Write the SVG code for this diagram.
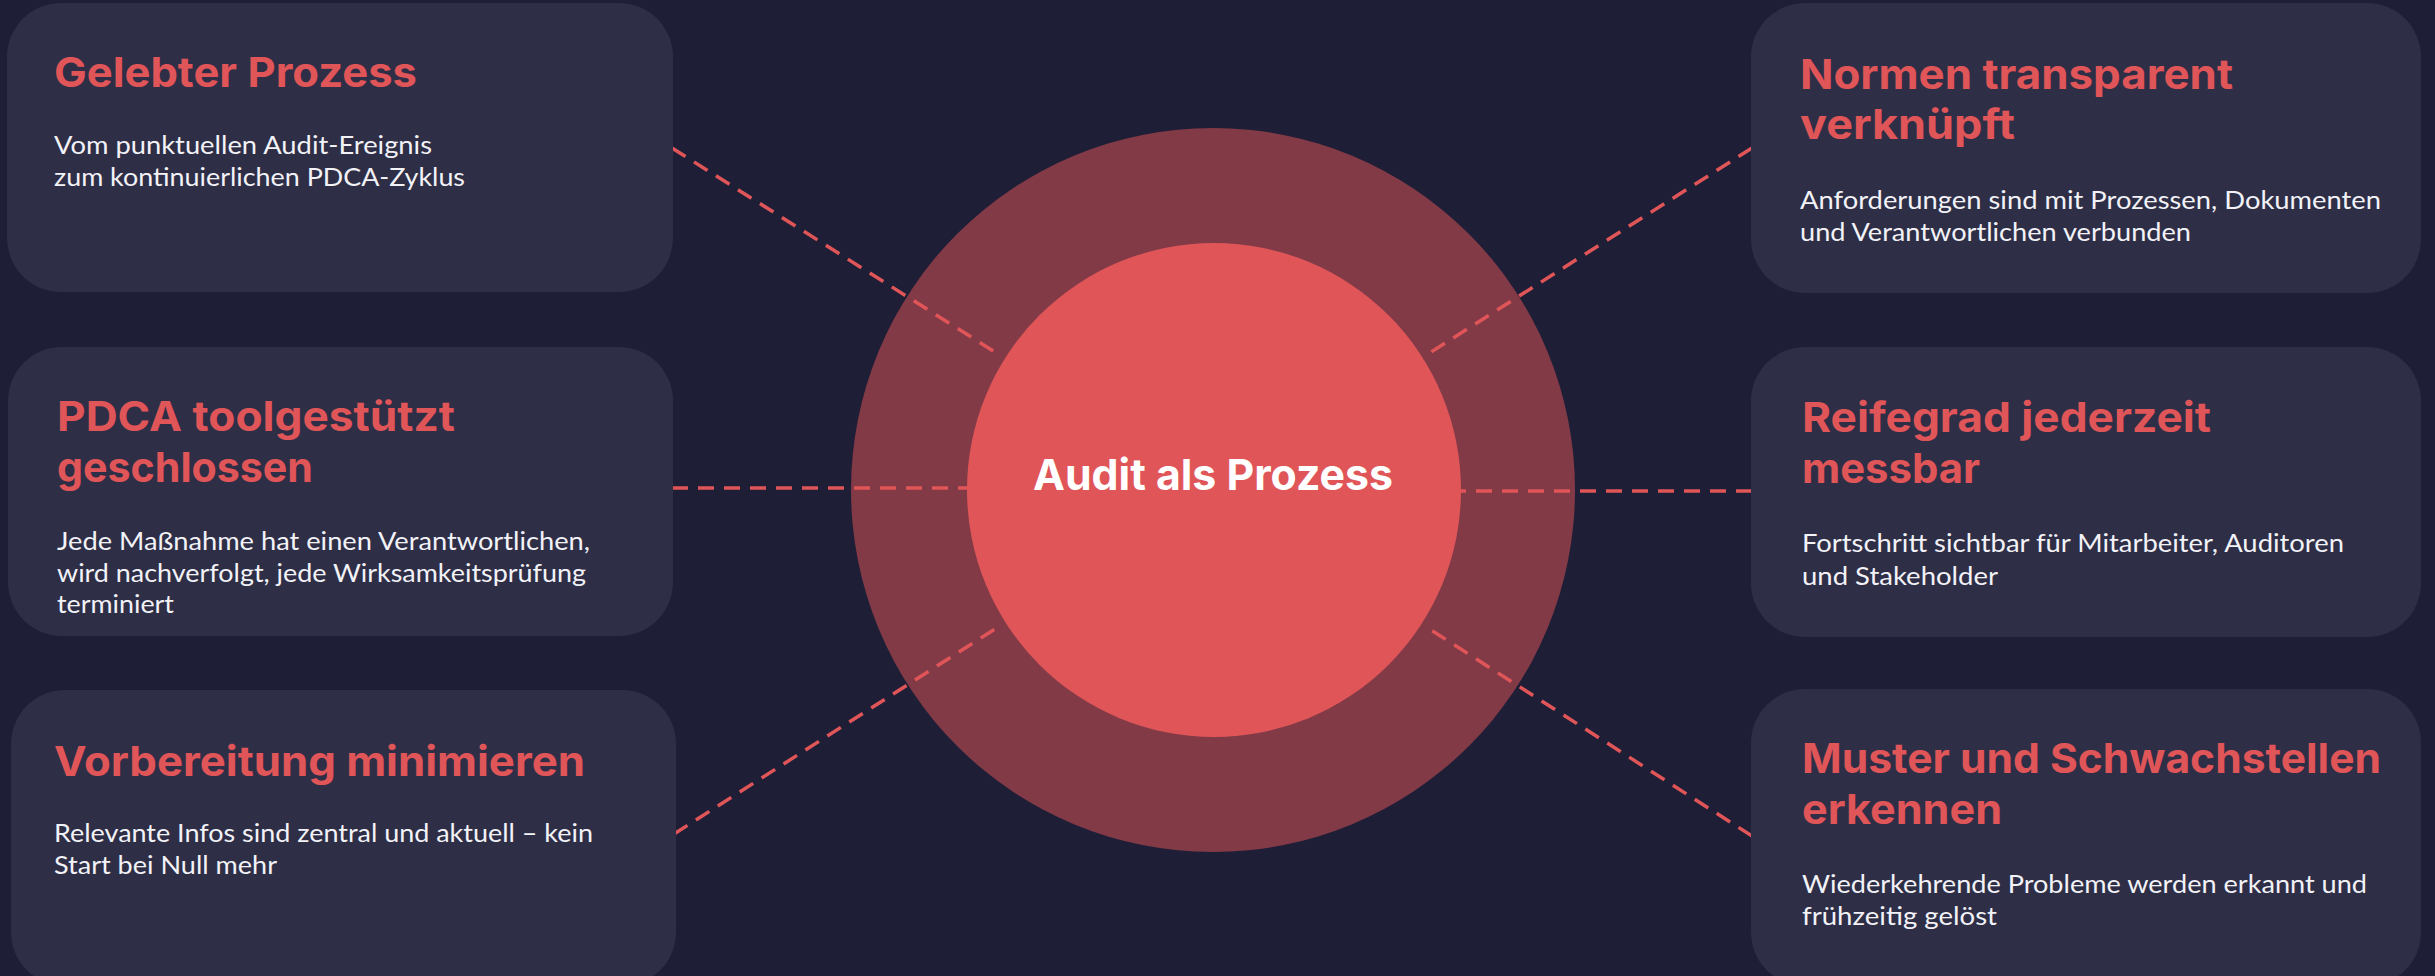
<svg xmlns="http://www.w3.org/2000/svg" width="2435" height="976" viewBox="0 0 2435 976">
  <style>
    .card { fill: #2E2E47; }
    .title { font-family: Inter, Lato, "Open Sans", sans-serif; font-weight: 700; font-size: 41px; fill: #E05558; }
    .body { font-family: Lato, "Open Sans", sans-serif; font-weight: 400; font-size: 25px; fill: #F2F2F7; }
    .conn { stroke: #E05558; stroke-width: 3.5; stroke-dasharray: 16 10; fill: none; }
    .center-label { font-family: Inter, Lato, "Open Sans", sans-serif; font-weight: 700; font-size: 43px; fill: #FFFFFF; }
  </style>
  <rect x="0" y="0" width="2435" height="976" fill="#1E1E36"/>

  <g id="hub-outer">
    <circle cx="1213" cy="490" r="362" fill="#823A47"/>
  </g>

  <g id="connectors">
    <line class="conn" x1="672" y1="148" x2="998" y2="354"/>
    <line class="conn" x1="672" y1="488" x2="968" y2="488"/>
    <line class="conn" x1="674" y1="834" x2="998" y2="627"/>
    <line class="conn" x1="1752" y1="148" x2="1428" y2="354"/>
    <line class="conn" x1="1752" y1="491" x2="1459" y2="491"/>
    <line class="conn" x1="1752" y1="836" x2="1428" y2="628"/>
  </g>

  <g id="hub">
    <circle cx="1214" cy="490" r="247" fill="#E05558"/>
    <text class="center-label" x="1213" y="490" text-anchor="middle" textLength="360" lengthAdjust="spacingAndGlyphs">Audit als Prozess</text>
  </g>

  <g id="card-gelebter-prozess">
    <rect class="card" x="7" y="3" width="666" height="289" rx="54"/>
    <text class="title" x="54" y="87" textLength="363" lengthAdjust="spacingAndGlyphs">Gelebter Prozess</text>
    <text class="body" x="54" y="154" textLength="378" lengthAdjust="spacingAndGlyphs">Vom punktuellen Audit-Ereignis</text>
    <text class="body" x="54" y="185.5" textLength="411" lengthAdjust="spacingAndGlyphs">zum kontinuierlichen PDCA-Zyklus</text>
  </g>

  <g id="card-pdca">
    <rect class="card" x="8" y="347" width="665" height="289" rx="54"/>
    <text class="title" x="57" y="431" textLength="398" lengthAdjust="spacingAndGlyphs">PDCA toolgestützt</text>
    <text class="title" x="57" y="482" textLength="256" lengthAdjust="spacingAndGlyphs">geschlossen</text>
    <text class="body" x="57" y="550" textLength="533" lengthAdjust="spacingAndGlyphs">Jede Maßnahme hat einen Verantwortlichen,</text>
    <text class="body" x="57" y="581.5" textLength="529" lengthAdjust="spacingAndGlyphs">wird nachverfolgt, jede Wirksamkeitsprüfung</text>
    <text class="body" x="57" y="613" textLength="117" lengthAdjust="spacingAndGlyphs">terminiert</text>
  </g>

  <g id="card-vorbereitung">
    <rect class="card" x="11" y="690" width="665" height="296" rx="54"/>
    <text class="title" x="54" y="776" textLength="531" lengthAdjust="spacingAndGlyphs">Vorbereitung minimieren</text>
    <text class="body" x="54" y="842" textLength="539" lengthAdjust="spacingAndGlyphs">Relevante Infos sind zentral und aktuell – kein</text>
    <text class="body" x="54" y="873.5" textLength="223" lengthAdjust="spacingAndGlyphs">Start bei Null mehr</text>
  </g>

  <g id="card-normen">
    <rect class="card" x="1751" y="3" width="670" height="290" rx="54"/>
    <text class="title" x="1800" y="89" textLength="433" lengthAdjust="spacingAndGlyphs">Normen transparent</text>
    <text class="title" x="1800" y="139" textLength="215" lengthAdjust="spacingAndGlyphs">verknüpft</text>
    <text class="body" x="1800" y="209" textLength="581" lengthAdjust="spacingAndGlyphs">Anforderungen sind mit Prozessen, Dokumenten</text>
    <text class="body" x="1800" y="241" textLength="391" lengthAdjust="spacingAndGlyphs">und Verantwortlichen verbunden</text>
  </g>

  <g id="card-reifegrad">
    <rect class="card" x="1751" y="347" width="670" height="290" rx="54"/>
    <text class="title" x="1802" y="432" textLength="409" lengthAdjust="spacingAndGlyphs">Reifegrad jederzeit</text>
    <text class="title" x="1802" y="483" textLength="178" lengthAdjust="spacingAndGlyphs">messbar</text>
    <text class="body" x="1802" y="552" textLength="542" lengthAdjust="spacingAndGlyphs">Fortschritt sichtbar für Mitarbeiter, Auditoren</text>
    <text class="body" x="1802" y="585" textLength="196" lengthAdjust="spacingAndGlyphs">und Stakeholder</text>
  </g>

  <g id="card-muster">
    <rect class="card" x="1751" y="689" width="670" height="297" rx="54"/>
    <text class="title" x="1802" y="773" textLength="579" lengthAdjust="spacingAndGlyphs">Muster und Schwachstellen</text>
    <text class="title" x="1802" y="824" textLength="200" lengthAdjust="spacingAndGlyphs">erkennen</text>
    <text class="body" x="1802" y="893" textLength="565" lengthAdjust="spacingAndGlyphs">Wiederkehrende Probleme werden erkannt und</text>
    <text class="body" x="1802" y="925" textLength="195" lengthAdjust="spacingAndGlyphs">frühzeitig gelöst</text>
  </g>
</svg>
